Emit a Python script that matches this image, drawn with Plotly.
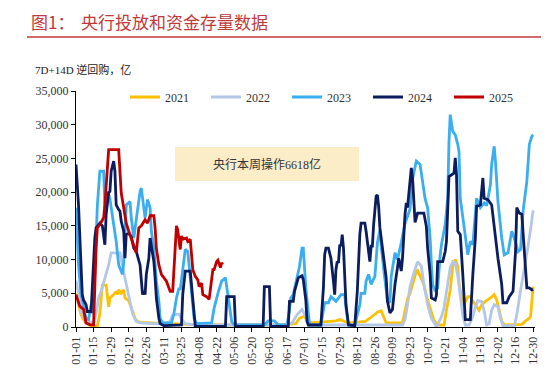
import plotly.graph_objects as go

# ---------------- data (day index 0 = 01-01, leap-year calendar) ----------------
tick_labels = ["01-01", "01-15", "01-29", "02-12", "02-26", "03-11", "03-25", "04-08",
               "04-22", "05-06", "05-20", "06-03", "06-17", "07-01", "07-15", "07-29",
               "08-12", "08-26", "09-09", "09-23", "10-07", "10-21", "11-04", "11-18",
               "12-02", "12-16", "12-30"]
tick_days = [14 * i for i in range(len(tick_labels))]

d2021 = [0, 3, 4, 6, 8, 12, 17, 19, 20, 21, 24, 25, 26, 27, 30, 32, 33, 34, 36, 38,
         39, 42, 44, 45, 47, 49, 52, 60, 70, 90, 120, 160, 175, 178, 182, 185, 200, 207, 210, 214,
         217, 228, 230, 234, 237, 240, 243, 245, 247, 260, 262, 264, 266, 268, 271, 272, 274, 277, 280, 283,
         285, 288, 293, 295, 298, 300, 302, 304, 305, 307, 309, 312, 314, 316, 318, 321, 323, 326, 330, 333,
         335, 337, 339, 341, 355, 358, 361, 362, 363, 364]
v2021 = [5000, 2800, 1800, 1100, 600, 100, 100, 2000, 4500, 6200, 6200, 4800, 3000, 4300, 4800, 5300, 4800, 5500, 5000, 5500,
         4300, 3900, 2800, 2100, 1300, 800, 700, 600, 500, 400, 300, 300, 500, 1300, 1600, 600, 800, 900, 1100, 800,
         600, 800, 800, 1300, 1800, 2200, 2400, 1500, 600, 600, 2400, 4200, 5000, 6500, 8300, 8400, 7500, 6300, 4000, 2000,
         1000, 300, 300, 2500, 5500, 9000, 10000, 9000, 6500, 4300, 3300, 4500, 4500, 3800, 3300, 2500, 3300, 3800, 4300, 4800,
         4000, 2500, 900, 300, 400, 900, 1300, 1600, 3300, 6000]

d2022 = [0, 2, 4, 7, 10, 14, 16, 18, 20, 23, 26, 28, 35, 37, 40, 43, 45, 48, 51, 60,
         70, 75, 77, 82, 84, 87, 95, 165, 172, 176, 180, 183, 185, 186, 260, 262, 264, 266, 269, 272,
         275, 277, 280, 283, 287, 291, 293, 295, 298, 300, 302, 304, 306, 308, 310, 313, 316, 318, 320, 323,
         325, 327, 329, 331, 333, 336, 338, 340, 349, 351, 354, 357, 360, 362, 364]
v2022 = [6900, 5000, 2300, 1300, 800, 600, 2000, 4300, 5300, 7300, 9200, 11000, 11000, 9000, 6500, 3500, 2000, 800, 600, 500,
         500, 800, 1800, 1900, 1200, 500, 300, 300, 600, 1800, 2600, 1500, 800, 300, 300, 1100, 3300, 6000, 8000, 9700,
         9000, 6300, 3300, 1300, 0, 1500, 2800, 5300, 8800, 9700, 9500, 7600, 4400, 1700, 300, 300, 1500, 3000, 3900, 3800,
         2400, 300, 500, 2500, 3300, 3000, 1300, 200, 200, 1800, 5400, 8500, 12000, 14500, 17300]

d2023 = [0, 2, 4, 6, 8, 10, 11, 12, 13, 15, 17, 19, 22, 23, 25, 27, 30, 32, 34, 37,
         38, 40, 43, 44, 46, 48, 50, 51, 52, 54, 55, 57, 59, 60, 62, 63, 64, 66, 67, 69,
         76, 78, 80, 82, 83, 85, 87, 89, 90, 92, 94, 96, 108, 110, 113, 116, 119, 120, 122, 124,
         126, 150, 153, 158, 161, 168, 170, 171, 173, 175, 178, 180, 181, 183, 185, 186, 195, 197, 198, 201,
         203, 207, 211, 214, 215, 217, 222, 226, 227, 230, 231, 233, 235, 238, 240, 242, 243, 246, 248, 250,
         251, 254, 256, 259, 262, 264, 266, 268, 270, 271, 274, 276, 278, 280, 282, 283, 284, 286, 288, 290,
         291, 294, 296, 297, 298, 300, 302, 304, 305, 306, 307, 310, 312, 314, 316, 319, 322, 325, 327, 330,
         331, 333, 334, 336, 339, 341, 344, 347, 349, 352, 354, 356, 359, 361, 363, 364]
v2023 = [17700, 9200, 4800, 2800, 1300, 1100, 2300, 3300, 2000, 8000, 18000, 23100, 23100, 17700, 20100, 19000, 15200, 12700, 9200, 7800,
         9500, 18100, 18600, 16200, 13200, 16200, 18600, 20100, 20600, 18100, 16200, 18900, 17700, 14200, 11700, 9200, 6800, 3800, 1300, 600,
         600, 2000, 4300, 5800, 5500, 8500, 11500, 11200, 9500, 5200, 1300, 500, 600, 2800, 5000, 6800, 7300, 6000, 3300, 800,
         300, 300, 900, 900, 300, 300, 2500, 4300, 4800, 6500, 9000, 11700, 11700, 5800, 1800, 300, 300, 2800, 3600, 3600,
         4500, 3800, 4800, 4800, 2800, 300, 300, 3300, 5000, 5000, 6800, 7800, 6300, 7500, 12500, 14400, 12000, 7000, 4000, 3600,
         7500, 11000, 10000, 12500, 15400, 16400, 17500, 22000, 24100, 24600, 24100, 21400, 19000, 17700, 13200, 9200, 6300, 5300, 5800, 10700,
         12200, 15200, 19100, 27500, 31500, 29000, 28500, 27100, 26000, 19100, 17700, 13200, 10700, 12700, 12200, 19100, 17700, 18400, 18000, 21100,
         24100, 26800, 24600, 18600, 13200, 10700, 11000, 14200, 13200, 11200, 11500, 17200, 21600, 27100, 28300, 28500]

d2024 = [0, 2, 4, 5, 6, 8, 9, 12, 15, 16, 19, 21, 23, 24, 26, 27, 28, 30, 31, 32,
         34, 35, 36, 38, 39, 40, 42, 44, 46, 48, 51, 52, 53, 54, 55, 56, 58, 59, 60, 62,
         63, 64, 66, 67, 70, 84, 85, 87, 91, 92, 93, 95, 119, 120, 126, 127, 149, 150, 154, 155,
         169, 170, 173, 174, 177, 180, 181, 183, 184, 185, 195, 197, 198, 199, 201, 203, 205, 206, 207, 208,
         209, 210, 211, 212, 213, 214, 215, 217, 222, 224, 226, 227, 230, 231, 233, 234, 235, 236, 237, 239,
         240, 241, 242, 244, 245, 247, 248, 250, 252, 254, 256, 257, 259, 260, 262, 263, 264, 266, 267, 268,
         270, 272, 277, 279, 280, 282, 283, 286, 287, 288, 292, 294, 295, 297, 299, 301, 302, 303, 304, 306,
         308, 309, 310, 314, 315, 316, 318, 319, 322, 323, 324, 325, 328, 331, 333, 336, 339, 340, 343, 345,
         348, 350, 351, 353, 355, 357, 359, 361, 363, 364]
v2024 = [24100, 18100, 9200, 4800, 4000, 3300, 2300, 2300, 13200, 14700, 15400, 15000, 12200, 16700, 19900, 20100, 23100, 24600, 23100, 18100,
         17400, 17200, 15700, 14200, 10200, 13700, 13900, 13400, 11700, 11200, 9200, 6300, 4800, 5300, 4800, 7800, 10200, 13200, 12200, 9700,
         7300, 4300, 1300, 500, 200, 300, 4800, 8300, 8300, 6000, 4800, 100, 100, 4500, 4500, 100, 100, 6000, 6000, 100,
         100, 3800, 3800, 5300, 7300, 7600, 7000, 4000, 800, 300, 300, 5800, 10700, 11700, 11700, 10200, 6800, 4800, 8500, 9700,
         9500, 12200, 12000, 13700, 11700, 7800, 3300, 300, 200, 5300, 13700, 15400, 15400, 14200, 11700, 9700, 12000, 12000, 15200, 19400,
         19600, 17900, 14700, 11700, 10200, 7300, 3800, 2100, 2600, 6300, 8800, 10200, 8300, 10200, 16700, 18400, 17700, 21600, 23600, 22100,
         15500, 16900, 16900, 14900, 11700, 7800, 4300, 4000, 4700, 9700, 9700, 11200, 12700, 22300, 22600, 22800, 25100, 22600, 14200, 13700,
         7800, 3800, 1100, 1100, 4800, 7800, 13200, 17900, 18100, 20100, 22100, 19100, 18900, 18100, 14700, 10200, 6300, 3600, 3600, 4500,
         5300, 11200, 17700, 16900, 16700, 11200, 5800, 5800, 5500, 5600]

d2025 = [0, 3, 6, 7, 8, 11, 14, 16, 17, 19, 22, 23, 25, 26, 34, 35, 36, 38, 39, 40,
         42, 44, 47, 48, 50, 52, 55, 57, 59, 62, 63, 64, 66, 68, 72, 75, 77, 79, 80, 81,
         83, 84, 85, 88, 89, 91, 92, 93, 95, 97, 98, 100, 101, 104, 106, 108, 109, 110, 112, 113,
         115, 116, 117]
v2025 = [4800, 3100, 2600, 1300, 600, 350, 300, 11700, 14700, 15200, 16200, 18100, 23000, 26300, 26300, 23100, 19900, 17700, 16700, 15400,
         14200, 13200, 11700, 11000, 14700, 15000, 15900, 15400, 16500, 16500, 14700, 11700, 9200, 7800, 6800, 5300, 5300, 13200, 15000, 14400,
         11500, 13500, 13000, 13200, 12700, 13000, 11200, 8500, 7500, 7000, 6000, 6500, 4800, 4500, 4100, 7000, 8500, 8500, 9700, 9900,
         8800, 9500, 9300]

series = [("2021", d2021, v2021, "#FFC000"),
          ("2022", d2022, v2022, "#B4C7E7"),
          ("2023", d2023, v2023, "#3AAEEF"),
          ("2024", d2024, v2024, "#0B1D5E"),
          ("2025", d2025, v2025, "#C00000")]
for name, d, v, _ in series:
    assert len(d) == len(v), (name, len(d), len(v))

# ---------------- figure ----------------
L, R, T, B = 68, 27, 83, 56
W, H = 554, 375
PW, PH = W - L - R, H - T - B


def px_x(p):
    return (p - L) / PW


def px_y(p):
    return (H - B - p) / PH


serif = "Liberation Serif, Times New Roman, Noto Sans CJK SC, serif"
cjk = "Noto Sans CJK SC, sans-serif"

fig = go.Figure()
for name, d, v, c in series:
    fig.add_trace(go.Scatter(x=d, y=v, mode="lines", name=name,
                             line=dict(color=c, width=2.8)))

fig.update_layout(
    width=W, height=H,
    margin=dict(l=L, r=R, t=T, b=B),
    paper_bgcolor="white", plot_bgcolor="white",
    showlegend=True,
    legend=dict(orientation="h", x=px_x(117), y=px_y(89), xanchor="left", yanchor="middle",
                entrywidth=36, entrywidthmode="pixels", bgcolor="rgba(0,0,0,0)",
                font=dict(family=serif, size=12, color="#333333"), tracegroupgap=0),
    xaxis=dict(range=[0, 365.5], tickvals=tick_days, ticktext=tick_labels, tickangle=-90,
               showline=True, linecolor="black", linewidth=1, ticks="outside", ticklen=4,
               tickcolor="black", showgrid=False, zeroline=False,
               tickfont=dict(family=serif, size=12, color="#333333")),
    yaxis=dict(range=[0, 35000], tickvals=list(range(0, 35001, 5000)), tickformat=",",
               ticksuffix="\u00a0\u00a0",
               showline=True, linecolor="black", linewidth=1, ticks="outside", ticklen=4,
               tickcolor="black", showgrid=False, zeroline=False,
               tickfont=dict(family=serif, size=12, color="#333333")),
)

# title & decorative rules
fig.add_annotation(text="图1：", xref="paper", yref="paper", x=px_x(21), y=px_y(14),
                   xanchor="left", yanchor="middle", showarrow=False,
                   font=dict(family=cjk, size=17, color="#C0393B"))
fig.add_annotation(text="央行投放和资金存量数据", xref="paper", yref="paper", x=px_x(71), y=px_y(14),
                   xanchor="left", yanchor="middle", showarrow=False,
                   font=dict(family=cjk, size=17, color="#C0393B"))
fig.add_shape(type="line", xref="paper", yref="paper", x0=px_x(19), x1=px_x(533),
              y0=px_y(29), y1=px_y(29), line=dict(color="#C0393B", width=1.5))
fig.add_shape(type="line", xref="paper", yref="paper", x0=px_x(18), x1=px_x(532),
              y0=px_y(372), y1=px_y(372), line=dict(color="#C00000", width=1.5))

fig.add_annotation(text="7D+14D 逆回购，亿", xref="paper", yref="paper", x=px_x(25), y=px_y(61),
                   xanchor="left", yanchor="middle", showarrow=False,
                   font=dict(family=serif, size=11, color="#222222"))

# note box
fig.add_shape(type="rect", xref="paper", yref="paper", x0=px_x(167), x1=px_x(351),
              y0=px_y(173), y1=px_y(139), fillcolor="#FCEDC9", line=dict(width=0), layer="below")
fig.add_annotation(text="央行本周操作6618亿", xref="paper", yref="paper", x=px_x(259), y=px_y(156),
                   xanchor="center", yanchor="middle", showarrow=False,
                   font=dict(family=serif, size=12, color="#333333"))

fig.write_html("out.html")
